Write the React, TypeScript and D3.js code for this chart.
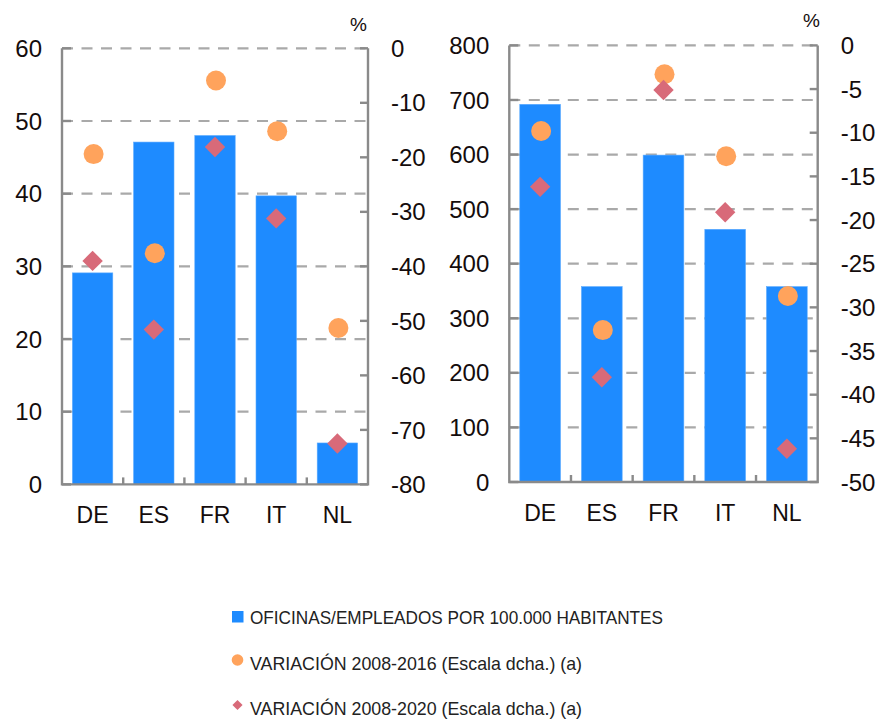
import React, { useEffect, useRef } from 'react';
import * as d3 from 'd3';

// Datos
const countries = ['DE', 'ES', 'FR', 'IT', 'NL'];

const oficinas = [29.1, 47.1, 48.0, 39.7, 5.7];
const oficinasVar2016 = [-19.4, -37.6, -5.9, -15.2, -51.3];
const oficinasVar2020 = [-39.0, -51.6, -18.1, -31.2, -72.5];

const empleados = [692, 358, 599, 463, 358];
const empleadosVar2016 = [-9.8, -32.6, -3.3, -12.7, -28.7];
const empleadosVar2020 = [-16.2, -38.0, -5.1, -19.1, -46.2];

const oficinasTicks = [0, 10, 20, 30, 40, 50, 60];
const oficinasPctTicks = [-80, -70, -60, -50, -40, -30, -20, -10, 0];
const empleadosTicks = [0, 100, 200, 300, 400, 500, 600, 700, 800];
const empleadosPctTicks = [-50, -45, -40, -35, -30, -25, -20, -15, -10, -5, 0];

const legendItems = [
  'OFICINAS/EMPLEADOS POR 100.000 HABITANTES',
  'VARIACIÓN 2008-2016 (Escala dcha.) (a)',
  'VARIACIÓN 2008-2020 (Escala dcha.) (a)',
];

const BAR = '#1E8BFF';
const DOT = '#FFA35C';
const DIAMOND = '#D86A79';
const AXIS = '#8a8a8a';
const GRID = '#a9a9a9';
const TEXT = '#140c0c';
const FONT = '"Liberation Sans", Arial, sans-serif';

const App: React.FC = () => {
  const svgRef = useRef<SVGSVGElement>(null);

  useEffect(() => {
    if (!svgRef.current) return;
    const svg = d3.select(svgRef.current);
    svg.selectAll('*').remove();

    const drawPanel = (
      x0: number, x1: number, top: number, bottom: number,
      values: number[], v16: number[], v20: number[],
      leftTicks: number[], rightTicks: number[],
      pctX: number, pctY: number,
    ) => {
      const g = svg.append('g');
      const x = d3.scaleBand<string>().domain(countries).range([x0, x1]).paddingInner(0.34).paddingOuter(0.17);
      const xc = d3.scaleBand<string>().domain(countries).range([x0, x1]);
      const y = d3.scaleLinear().domain([leftTicks[0], leftTicks[leftTicks.length - 1]]).range([bottom, top]);
      const y2 = d3.scaleLinear().domain([rightTicks[0], rightTicks[rightTicks.length - 1]]).range([bottom, top]);

      // rejilla discontinua
      g.selectAll('line.grid')
        .data(leftTicks.filter(t => t !== leftTicks[0]))
        .enter().append('line')
        .attr('x1', x0).attr('x2', x1)
        .attr('y1', d => y(d)).attr('y2', d => y(d))
        .attr('stroke', GRID).attr('stroke-width', 2.2)
        .attr('stroke-dasharray', '11,8.5');

      // barras
      g.selectAll('rect.bar')
        .data(values)
        .enter().append('rect')
        .attr('x', (_, i) => x(countries[i])!)
        .attr('width', x.bandwidth())
        .attr('y', d => y(d))
        .attr('height', d => y(0) - y(d))
        .attr('fill', BAR)
        .attr('stroke', '#5aaaff').attr('stroke-width', 0.6);

      // ejes
      g.append('path')
        .attr('d', `M${x0},${top}V${bottom}H${x1}V${top}`)
        .attr('fill', 'none').attr('stroke', AXIS).attr('stroke-width', 2.4);

      g.selectAll('line.lt')
        .data(leftTicks)
        .enter().append('line')
        .attr('x1', x0).attr('x2', x0 + 9)
        .attr('y1', d => y(d)).attr('y2', d => y(d))
        .attr('stroke', AXIS).attr('stroke-width', 2.4);

      g.selectAll('line.rt')
        .data(rightTicks)
        .enter().append('line')
        .attr('x1', x1 - 8).attr('x2', x1)
        .attr('y1', d => y2(d)).attr('y2', d => y2(d))
        .attr('stroke', AXIS).attr('stroke-width', 2.4);

      g.selectAll('line.bt')
        .data(countries.slice(1))
        .enter().append('line')
        .attr('x1', d => xc(d)!).attr('x2', d => xc(d)!)
        .attr('y1', bottom).attr('y2', bottom - 7)
        .attr('stroke', AXIS).attr('stroke-width', 2.4);

      // etiquetas
      g.selectAll('text.ly')
        .data(leftTicks)
        .enter().append('text')
        .attr('x', x0 - 20).attr('y', d => y(d)).attr('dy', '0.36em')
        .attr('text-anchor', 'end')
        .attr('font-family', FONT).attr('font-size', 24).attr('fill', TEXT)
        .text(d => d);

      g.selectAll('text.ry')
        .data(rightTicks)
        .enter().append('text')
        .attr('x', x1 + 23).attr('y', d => y2(d)).attr('dy', '0.36em')
        .attr('font-family', FONT).attr('font-size', 24).attr('fill', TEXT)
        .text(d => d);

      g.selectAll('text.cx')
        .data(countries)
        .enter().append('text')
        .attr('x', d => xc(d)! + xc.bandwidth() / 2).attr('y', bottom + 39)
        .attr('text-anchor', 'middle')
        .attr('font-family', FONT).attr('font-size', 23).attr('fill', TEXT)
        .text(d => d);

      g.append('text')
        .attr('x', pctX).attr('y', pctY).attr('text-anchor', 'end')
        .attr('font-family', FONT).attr('font-size', 19).attr('fill', TEXT)
        .text('%');

      // marcadores
      g.selectAll('circle.v16')
        .data(v16)
        .enter().append('circle')
        .attr('cx', (_, i) => xc(countries[i])! + xc.bandwidth() / 2 + 1)
        .attr('cy', d => y2(d))
        .attr('r', 10)
        .attr('fill', DOT);

      const diamond = d3.symbol().type(d3.symbolDiamond2).size(265);
      g.selectAll('path.v20')
        .data(v20)
        .enter().append('path')
        .attr('d', diamond()!)
        .attr('transform', (d, i) => `translate(${xc(countries[i])! + xc.bandwidth() / 2},${y2(d)})`)
        .attr('fill', DIAMOND);
    };

    drawPanel(62, 368, 48.3, 484.4, oficinas, oficinasVar2016, oficinasVar2020,
      oficinasTicks, oficinasPctTicks, 367, 31);
    drawPanel(509.3, 817.7, 45.4, 482, empleados, empleadosVar2016, empleadosVar2020,
      empleadosTicks, empleadosPctTicks, 820, 27);

    // leyenda
    const lg = svg.append('g');
    const rowY = [617, 662, 707];
    const lengths = [413, 332, 332];
    lg.append('rect').attr('x', 232).attr('y', rowY[0] - 6).attr('width', 11.5).attr('height', 11.5).attr('fill', BAR);
    lg.append('circle').attr('cx', 237.5).attr('cy', rowY[1] - 2).attr('r', 5.8).attr('fill', DOT);
    lg.append('path').attr('d', d3.symbol().type(d3.symbolDiamond2).size(66)()!)
      .attr('transform', `translate(237.5,${rowY[2] - 2})`).attr('fill', DIAMOND);
    lg.selectAll('text.lg')
      .data(legendItems)
      .enter().append('text')
      .attr('x', 250).attr('y', (_, i) => rowY[i] + 7 + (i > 0 ? 1 : 0))
      .attr('font-family', '"Liberation Sans Narrow", "Liberation Sans", Arial, sans-serif')
      .attr('font-size', 19).attr('fill', '#222')
      .attr('textLength', (_, i) => lengths[i]).attr('lengthAdjust', 'spacingAndGlyphs')
      .text(d => d);
  }, []);

  return (
    <svg
      ref={svgRef}
      width={881}
      height={720}
      viewBox="0 0 881 720"
      style={{ position: 'absolute', left: 0, top: 0, background: '#fff' }}
    />
  );
};

export default App;
